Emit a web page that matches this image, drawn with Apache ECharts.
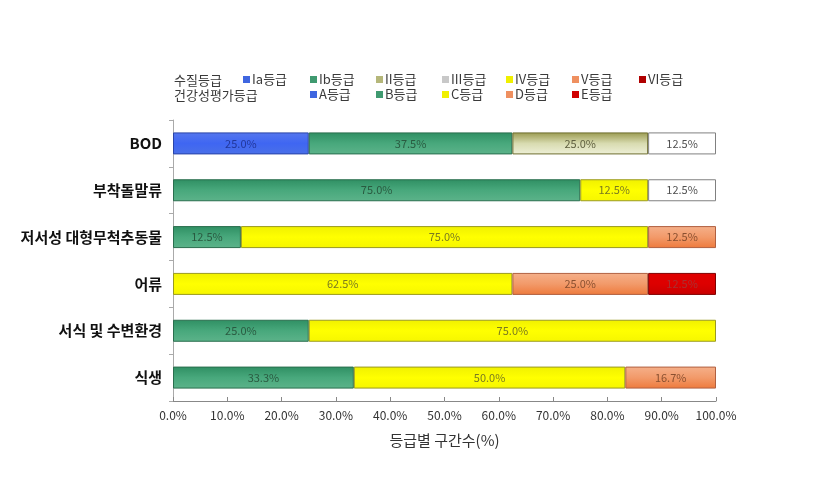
<!DOCTYPE html>
<html><head><meta charset="utf-8">
<script src="https://cdn.jsdelivr.net/npm/echarts@6/dist/echarts.min.js"></script>
<style>html,body{margin:0;padding:0;background:#fff}#c{width:818px;height:479px}</style>
</head><body><div id="c"></div>
<script>
const categories = ['BOD','부착돌말류','저서성 대형무척추동물','어류','서식 및 수변환경','식생'];
const xTicks = ['0.0%','10.0%','20.0%','30.0%','40.0%','50.0%','60.0%','70.0%','80.0%','90.0%','100.0%'];
// stacked segments, left to right
const blueVals   = [25.0, null, null, null, null, null];
const greenVals  = [37.5, 75.0, 12.5, null, 25.0, 33.3];
const oliveVals  = [25.0, null, null, null, null, null];
const yellowVals = [null, 12.5, 75.0, 62.5, 75.0, 50.0];
const whiteVals  = [12.5, 12.5, null, null, null, null];
const salmonVals = [null, null, 12.5, 25.0, null, 16.7];
const redVals    = [null, null, null, 12.5, null, null];
const row1Names = ['Ia등급','Ib등급','II등급','III등급','IV등급','V등급','VI등급'];
const row2Names = ['A등급','B등급','C등급','D등급','E등급'];
const legendRowTitles = ['수질등급','건강성평가등급'];

const FONT = '"Noto Sans CJK KR", "Noto Sans", sans-serif';
function grad(top, mid, bot){
  return {type:'linear',x:0,y:0,x2:0,y2:1,colorStops:[{offset:0,color:top},{offset:0.5,color:mid},{offset:1,color:bot}]};
}
const C = {
  blue:   {fill: grad('#5577ee','#3f66f2','#4a70e8'), border:'#2a44a8', label:'#22379a', icon:'#3f66e0'},
  green:  {fill: grad('#2f8f63','#48a87c','#5cb38a'), border:'#2a6e4e', label:'#2a5a40', icon:'#3f9a70'},
  olive:  {fill: grad('#9a9a50','#d8dbb0','#eef0d8'), border:'#6e6e30', label:'#606040', icon:'#b5b77a'},
  yellow: {fill: grad('#f0f000','#ffff00','#f6f600'), border:'#9a9a20', label:'#7a7a20', icon:'#f0f000'},
  white:  {fill: '#ffffff', border:'#808080', label:'#505050', icon:'#c8c8c8'},
  salmon: {fill: grad('#f5b08a','#f29a6a','#ee7a3c'), border:'#b06040', label:'#8a5030', icon:'#ef9060'},
  red:    {fill: grad('#e00000','#dd0000','#c80000'), border:'#800000', label:'#aa3030', icon:'#d00000'}
};
function seg(name, vals, c){
  return {
    name, type:'bar', stack:'all', data: vals, barWidth: 22,
    itemStyle:{color:c.fill, borderColor:c.border, borderWidth:1},
    label:{show:true, position:'inside', fontFamily:FONT, fontSize:11, color:c.label,
      formatter: p => p.value == null ? '' : Number(p.value).toFixed(1)+'%'},
    emphasis:{disabled:true}
  };
}
function legendOnly(name, color){
  return {name, type:'bar', stack:'all', data:[], itemStyle:{color}};
}
const series = [
  seg('Ia등급', blueVals, C.blue),
  seg('Ib등급', greenVals, C.green),
  seg('II등급', oliveVals, C.olive),
  seg('C등급', yellowVals, C.yellow),
  seg('III등급', whiteVals, C.white),
  seg('D등급', salmonVals, C.salmon),
  seg('E등급', redVals, C.red),
  legendOnly('IV등급', C.yellow.icon),
  legendOnly('V등급', C.salmon.icon),
  legendOnly('VI등급', '#b00000'),
  legendOnly('A등급', C.blue.icon),
  legendOnly('B등급', C.green.icon)
];
const iconColor = {'Ia등급':C.blue.icon,'Ib등급':C.green.icon,'II등급':C.olive.icon,'III등급':C.white.icon,
  'IV등급':C.yellow.icon,'V등급':C.salmon.icon,'VI등급':'#b00000','A등급':C.blue.icon,'B등급':C.green.icon,
  'C등급':C.yellow.icon,'D등급':C.salmon.icon,'E등급':C.red.icon};
const row1Left = [243, 310, 376, 442, 506, 572, 639];
const row2Left = [310, 376, 442, 506, 572];
const legends = [];
function legendItem(name, left, top){
  legends.push({
    left, top, orient:'horizontal', itemWidth:7, itemHeight:7, itemGap:0, icon:'rect', selectedMode:false, padding:0,
    textStyle:{fontFamily:FONT, fontSize:13, color:'#3a3a3a', padding:[0,0,0,-3]},
    data:[{name, itemStyle:{color:iconColor[name], borderWidth:0}}]
  });
}
row1Names.forEach((n,i)=>legendItem(n, row1Left[i], 73));
row2Names.forEach((n,i)=>legendItem(n, row2Left[i], 88));

const chart = echarts.init(document.getElementById('c'), null, {renderer:'canvas'});
chart.setOption({
  animation:false,
  backgroundColor:'#fff',
  graphic:[
    {type:'text', x:174, y:80, style:{text:legendRowTitles[0], font:'13px '+FONT, fill:'#3a3a3a', verticalAlign:'middle'}},
    {type:'text', x:174, y:95, style:{text:legendRowTitles[1], font:'13px '+FONT, fill:'#3a3a3a', verticalAlign:'middle'}}
  ],
  legend: legends,
  grid:{left:173, right:102, top:120, bottom:78, containLabel:false},
  xAxis:{
    type:'value', min:0, max:100, interval:10,
    axisLine:{show:true, lineStyle:{color:'#888'}},
    axisTick:{show:true, inside:true, length:4, lineStyle:{color:'#888'}},
    splitLine:{show:false},
    axisLabel:{fontFamily:FONT, fontSize:12, color:'#333', margin:8, formatter:(v)=>xTicks[Math.round(v/10)]},
    name:'등급별 구간수(%)', nameLocation:'middle', nameGap:32,
    nameTextStyle:{fontFamily:FONT, fontSize:15, color:'#333'}
  },
  yAxis:{
    type:'category', data:categories, inverse:true,
    axisLine:{show:true, lineStyle:{color:'#aaa'}},
    axisTick:{show:true, length:4, lineStyle:{color:'#aaa'}},
    axisLabel:{fontFamily:FONT, fontSize:15, fontWeight:'bold', color:'#111', margin:11}
  },
  series
});
</script></body></html>
